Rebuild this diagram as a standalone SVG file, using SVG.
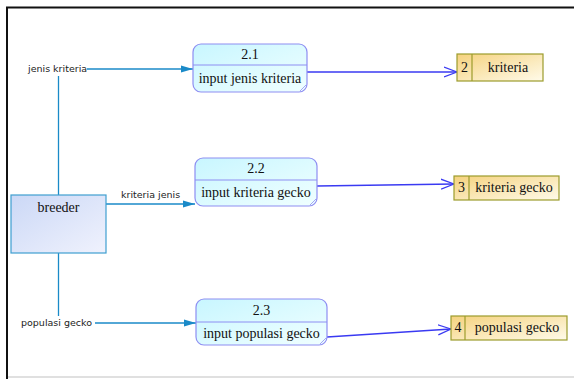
<svg xmlns="http://www.w3.org/2000/svg" width="574" height="379" viewBox="0 0 574 379">
  <style>
    .proc { fill: url(#procFill); stroke: #8e8ef2; stroke-width: 1.2; }
    .div { stroke: #8e8ef2; stroke-width: 1; }
    .store { fill: url(#storeFill); stroke: #9c9c2c; stroke-width: 1.2; }
    .ent { fill: url(#entFill); stroke: #3f9fd0; stroke-width: 1.2; }
    .serif { font-family: "Liberation Serif", "Times New Roman", serif; font-size: 14px; fill: #111; }
    .lbl { font-family: "DejaVu Sans", "Liberation Sans", sans-serif; font-size: 9.5px; fill: #222; }
    .in { stroke: #1a8ac8; stroke-width: 1.3; fill: none; }
    .out { stroke: #3a3af2; stroke-width: 1.3; fill: none; }
  </style>
  <defs>
    <linearGradient id="procFill" x1="0" y1="0" x2="1" y2="1">
      <stop offset="0" stop-color="#c8f6ff"/>
      <stop offset="1" stop-color="#f0ffff"/>
    </linearGradient>
    <linearGradient id="storeFill" x1="0" y1="0" x2="1" y2="1">
      <stop offset="0" stop-color="#f5d27e"/>
      <stop offset="1" stop-color="#fffbea"/>
    </linearGradient>
    <linearGradient id="entFill" x1="0" y1="0" x2="1" y2="1">
      <stop offset="0" stop-color="#cbd8f6"/>
      <stop offset="1" stop-color="#f0f2fd"/>
    </linearGradient>
    <marker id="fillHead" markerWidth="12" markerHeight="8" refX="12" refY="4" orient="auto" markerUnits="userSpaceOnUse">
      <path d="M0,0.5 L12,4 L0,7.5 Z" fill="#1a8ac8"/>
    </marker>
    <marker id="openHead" markerWidth="14" markerHeight="12" refX="13" refY="6" orient="auto" markerUnits="userSpaceOnUse">
      <path d="M0,1 L13,6 L0,11" fill="none" stroke="#3a3af2" stroke-width="1.3"/>
    </marker>
  </defs>

  <rect width="574" height="379" fill="#ffffff"/>
  <!-- frame -->
  <path d="M7,379 V7.5 H574" fill="none" stroke="#111" stroke-width="2"/>
  <line x1="8" y1="377" x2="574" y2="377" stroke="#d6d6d6" stroke-width="1.5"/>

  <g id="connectors">
    <!-- vertical trunk from breeder -->
    <line class="in" x1="58.5" y1="76" x2="58.5" y2="195"/>
    <line class="in" x1="58.5" y1="253" x2="58.5" y2="316"/>
    <!-- incoming flows -->
    <line class="in" x1="87" y1="69" x2="193" y2="69" marker-end="url(#fillHead)"/>
    <line class="in" x1="106" y1="204" x2="195" y2="204" marker-end="url(#fillHead)"/>
    <line class="in" x1="95" y1="323" x2="196" y2="323" marker-end="url(#fillHead)"/>
    <text class="lbl" x="28" y="72">jenis kriteria</text>
    <text class="lbl" x="121" y="198">kriteria jenis</text>
    <text class="lbl" x="21" y="326">populasi gecko</text>
    <!-- outgoing flows -->
    <line class="out" x1="307" y1="72" x2="457" y2="72" marker-end="url(#openHead)"/>
    <line class="out" x1="317" y1="186" x2="454" y2="184" marker-end="url(#openHead)"/>
    <line class="out" x1="327" y1="337" x2="451" y2="329" marker-end="url(#openHead)"/>
  </g>

  <g id="breeder">
    <rect class="ent" x="11" y="195" width="95" height="58"/>
    <text class="serif" x="58.5" y="212" text-anchor="middle" font-size="15">breeder</text>
  </g>

  <g id="p2_1">
    <rect class="proc" x="193" y="44" width="114" height="48" rx="8"/>
    <line class="div" x1="193" y1="65" x2="307" y2="65"/>
    <path d="M300,91 L306,85" stroke="#8e8ef2" stroke-width="0.8"/>
    <text class="serif" x="250" y="59" text-anchor="middle">2.1</text>
    <text class="serif" x="250" y="83" text-anchor="middle">input jenis kriteria</text>
  </g>

  <g id="p2_2">
    <rect class="proc" x="195" y="158" width="122" height="48" rx="8"/>
    <line class="div" x1="195" y1="180" x2="317" y2="180"/>
    <path d="M310,205 L316,199" stroke="#8e8ef2" stroke-width="0.8"/>
    <text class="serif" x="256" y="173" text-anchor="middle">2.2</text>
    <text class="serif" x="256" y="197" text-anchor="middle">input kriteria gecko</text>
  </g>

  <g id="p2_3">
    <rect class="proc" x="196" y="299" width="131" height="46" rx="8"/>
    <line class="div" x1="196" y1="322" x2="327" y2="322"/>
    <path d="M320,344 L326,338" stroke="#8e8ef2" stroke-width="0.8"/>
    <text class="serif" x="261.5" y="315" text-anchor="middle">2.3</text>
    <text class="serif" x="261.5" y="338" text-anchor="middle">input populasi gecko</text>
  </g>

  <g id="store2">
    <rect class="store" x="457" y="54" width="86" height="27"/>
    <line class="store" x1="472" y1="54" x2="472" y2="81"/>
    <text class="serif" x="464.5" y="72" text-anchor="middle">2</text>
    <text class="serif" x="508" y="72" text-anchor="middle">kriteria</text>
  </g>

  <g id="store3">
    <rect class="store" x="454" y="176" width="105" height="24"/>
    <line class="store" x1="469" y1="176" x2="469" y2="200"/>
    <text class="serif" x="461.5" y="192" text-anchor="middle">3</text>
    <text class="serif" x="514" y="192" text-anchor="middle">kriteria gecko</text>
  </g>

  <g id="store4">
    <rect class="store" x="451" y="316" width="116" height="24"/>
    <line class="store" x1="465" y1="316" x2="465" y2="340"/>
    <text class="serif" x="458" y="332" text-anchor="middle">4</text>
    <text class="serif" x="517" y="332" text-anchor="middle">populasi gecko</text>
  </g>
</svg>
